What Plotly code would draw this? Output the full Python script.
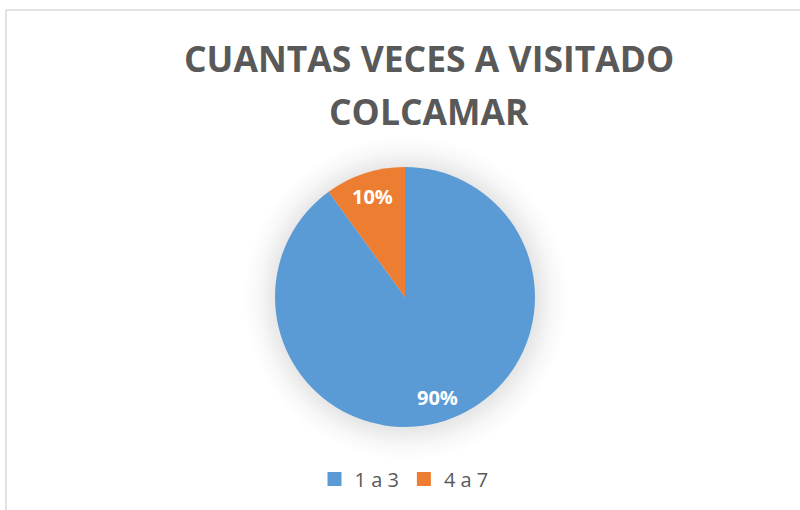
import math
import plotly.graph_objects as go

labels = ["1 a 3", "4 a 7"]
values = [90, 10]
colors = ["#5B9BD5", "#ED7D31"]
title_lines = ["CUANTAS VECES A VISITADO", "COLCAMAR"]

W, H = 800, 510
cx, cy, r = 405, 297, 130

fig = go.Figure()
fig.add_trace(go.Pie(
    labels=labels, values=values, sort=False, direction="clockwise", rotation=0,
    marker=dict(colors=colors, line=dict(width=0)),
    textinfo="none", showlegend=False,
    domain=dict(x=[(cx - r) / W, (cx + r) / W], y=[(H - cy - r) / H, (H - cy + r) / H]),
    hoverinfo="label+percent",
))
# legend entries
for lab, col in zip(labels, colors):
    fig.add_trace(go.Scatter(x=[None], y=[None], mode="markers", name=lab,
                             marker=dict(symbol="square", size=14, color=col)))

# percentage labels placed at slice mid-angles
total = sum(values)
annotations = []
cum = 0
for v in values:
    mid = (cum + v / 2) / total * 2 * math.pi
    cum += v
    lx = cx + 0.81 * r * math.sin(mid)
    ly = cy - 0.81 * r * math.cos(mid)
    annotations.append(dict(text=f"<b>{v / total:.0%}</b>", x=lx / W, y=1 - ly / H, xref="paper", yref="paper",
                            xanchor="center", yanchor="middle", showarrow=False,
                            font=dict(family="Open Sans", size=20, color="white")))
for line, ty in zip(title_lines, [60, 113]):
    annotations.append(dict(text=f"<b>{line}</b>", x=429 / W, y=1 - (ty - 2) / H, xref="paper", yref="paper",
                            xanchor="center", yanchor="middle", showarrow=False,
                            font=dict(family="Open Sans", size=35.5, color="#595959")))

shapes = []
# soft glow around the pie
n = 16
for k in range(n, 0, -1):
    rr = r + 2 * k
    op = 0.0075 * (1 - (k - 1) / n) + 0.002
    shapes.append(dict(type="circle", xref="paper", yref="paper",
                       x0=(cx + 1 - rr) / W, x1=(cx + 1 + rr) / W,
                       y0=(H - cy - 1 - rr) / H, y1=(H - cy - 1 + rr) / H,
                       fillcolor=f"rgba(0,0,0,{op:.4f})", line=dict(width=0), layer="below"))
# chart area border (top and left)
shapes.append(dict(type="line", xref="paper", yref="paper", x0=6 / W, x1=1, y0=1 - 10 / H, y1=1 - 10 / H,
                   line=dict(color="#D9D9D9", width=1.5)))
shapes.append(dict(type="line", xref="paper", yref="paper", x0=6 / W, x1=6 / W, y0=0, y1=1 - 10 / H,
                   line=dict(color="#D9D9D9", width=1.5)))

fig.update_layout(
    width=W, height=H,
    margin=dict(l=0, r=0, t=0, b=0),
    paper_bgcolor="white", plot_bgcolor="white",
    xaxis=dict(visible=False), yaxis=dict(visible=False),
    shapes=shapes,
    annotations=annotations,
    showlegend=True,
    legend=dict(orientation="h", x=404 / W, xanchor="center", y=1 - 479 / H, yanchor="middle",
                font=dict(family="Open Sans", size=20, color="#595959"),
                itemwidth=30, traceorder="normal", bgcolor="rgba(0,0,0,0)"),
)

fig.write_html("out.html", config={"displayModeBar": False},
               post_script="document.body.style.margin='0';")
